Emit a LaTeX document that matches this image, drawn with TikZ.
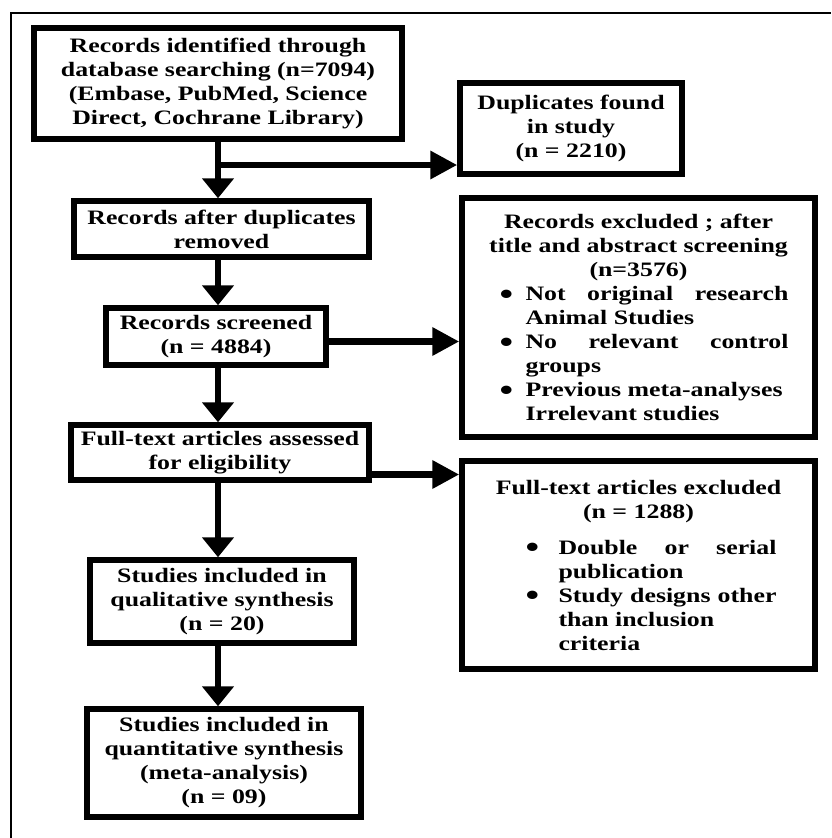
\documentclass[tikz,border=0pt]{standalone}
\usepackage{graphicx}
\usepackage{fontspec}
\setmainfont[FakeStretch=1.26]{Liberation Serif}
\usetikzlibrary{arrows.meta}

% bullet line with hanging indent
\newcommand{\litem}[2][27pt]{\par\noindent\hangindent=#1\hangafter=1%
  \makebox[#1][l]{\hspace{1pt}\raisebox{-0.17em}{\scalebox{1.5}{\textbullet}}}#2}

\begin{document}
\begin{tikzpicture}[x=1pt, y=-1pt,
  stagebox/.style={draw, line width=5.5pt, inner sep=0pt, align=center,
    font=\fontsize{20.5}{24}\selectfont\bfseries},
  flowarr/.style={line width=6.5pt, -{Triangle[width=31pt,length=20pt]}},
  sidearr/.style={line width=6.5pt, -{Triangle[width=27pt,length=27pt]}}]

\useasboundingbox (0,0) rectangle (831,838);

% Frame
\draw[line width=1.5pt] (11,838) -- (11,13) -- (831,13);

% Main column
\node[stagebox, minimum width=368, minimum height=111] (ident) at (218,83.5)
  {Records identified through\\database searching (n=7094)\\(Embase, PubMed, Science\\Direct, Cochrane Library)};
\node[stagebox, minimum width=295, minimum height=56] (after) at (221.5,229)
  {Records after duplicates\\removed};
\node[stagebox, minimum width=220, minimum height=57] (screen) at (216,336.5)
  {Records screened\\(n = 4884)};
\node[stagebox, minimum width=298, minimum height=55] (elig) at (220,452.5)
  {Full-text articles assessed\\for eligibility};
\node[stagebox, minimum width=264, minimum height=83] (qual) at (222,601.5)
  {Studies included in\\qualitative synthesis\\(n = 20)};
\node[stagebox, minimum width=274, minimum height=108] (quant) at (224,763)
  {Studies included in\\quantitative synthesis\\(meta-analysis)\\(n = 09)};

% Side boxes
\node[stagebox, minimum width=222, minimum height=91] (dup) at (571,128.5)
  {Duplicates found\\in study\\(n = 2210)};
\node[stagebox, minimum width=353, minimum height=239] (excl) at (638.5,317.5)
  {Records excluded ; after\\title and abstract screening\\(n=3576)\\
   \hspace*{10pt}\parbox[t]{290pt}{\litem{Not original research\linebreak Animal Studies}%
   \litem{No relevant control\linebreak groups}%
   \litem{Previous meta-analyses\newline Irrelevant studies}}};
\node[stagebox, minimum width=353, minimum height=208] (full) at (638.5,565)
  {Full-text articles excluded\\(n = 1288)\\[12pt]
   \hspace*{24pt}\parbox[t]{252pt}{\litem[34pt]{Double or serial\linebreak publication}%
   \litem[34pt]{Study designs other\linebreak than inclusion\newline criteria}}};

% Arrows
\coordinate (trunk) at (218,0);
\coordinate (split) at (218,165);
\draw[flowarr] (ident.south) -- (trunk |- after.north);
\draw[sidearr] (split) -- (split -| dup.west);
\draw[flowarr] (trunk |- after.south) -- (trunk |- screen.north);
\draw[sidearr] ([yshift=-5pt]screen.east) -- ([yshift=-5pt]screen.east -| excl.west);
\draw[flowarr] (trunk |- screen.south) -- (trunk |- elig.north);
\draw[sidearr] ([yshift=-22pt]elig.east) -- ([yshift=-22pt]elig.east -| full.west);
\draw[flowarr] (trunk |- elig.south) -- (trunk |- qual.north);
\draw[flowarr] (trunk |- qual.south) -- (trunk |- quant.north);

\end{tikzpicture}
\end{document}
